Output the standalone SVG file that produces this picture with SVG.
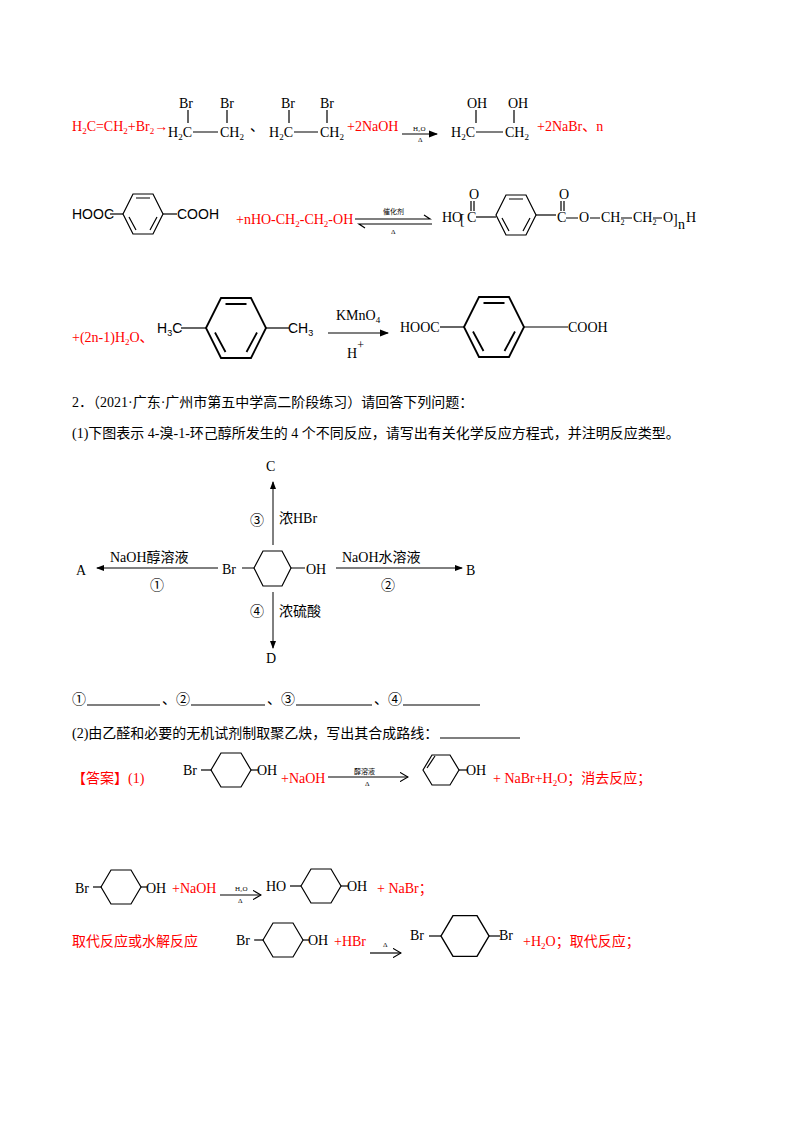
<svg xmlns="http://www.w3.org/2000/svg" width="800" height="1132" viewBox="0 0 800 1132">
<style>
text{font-family:"Liberation Serif","Noto Sans CJK SC",serif;font-size:14px;fill:#000}
.r{fill:#f00}
.s{font-size:7px}
.sb{font-family:"Liberation Sans",sans-serif}
.ln{stroke:#000;stroke-width:1.2;fill:none}
</style>
<defs>
<marker id="ah" markerWidth="8" markerHeight="6" refX="7" refY="3" orient="auto"><path d="M0,0L8,3L0,6z" fill="#000"/></marker>
<marker id="oa" markerWidth="8" markerHeight="8" refX="7" refY="4" orient="auto"><path d="M0,0L7,4L0,8" fill="none" stroke="#000"/></marker>
<g id="hex"><polygon points="-20,0 -10,-17 10,-17 20,0 10,17 -10,17" class="ln"/></g>
<g id="benz"><polygon points="-20,0 -10,-20 10,-20 20,0 10,20 -10,20" class="ln"/><path d="M-7,-16H7M14,3L7,16M-14,3L-7,16" class="ln"/></g>
</defs>
<rect width="800" height="1132" fill="#fff"/>

<!-- Row 1 -->
<g id="row1">
<text x="72" y="131" class="r">H<tspan font-size="9" dy="3">2</tspan><tspan dy="-3">C=CH</tspan><tspan font-size="9" dy="3">2</tspan><tspan dy="-3">+Br</tspan><tspan font-size="9" dy="3">2</tspan><tspan dy="-3">→</tspan></text>
<text x="168" y="137">H<tspan font-size="9" dy="3">2</tspan><tspan dy="-3">C</tspan></text>
<text x="220" y="137">CH<tspan font-size="9" dy="3">2</tspan></text>
<path d="M193,132H218M188,123V110M227,123V110" class="ln"/>
<text x="179" y="108">Br</text><text x="220" y="108">Br</text>
<text x="250" y="131">、</text>
<text x="269" y="137">H<tspan font-size="9" dy="3">2</tspan><tspan dy="-3">C</tspan></text>
<text x="320" y="137">CH<tspan font-size="9" dy="3">2</tspan></text>
<path d="M294,132H318M289,123V110M327,123V110" class="ln"/>
<text x="281" y="108">Br</text><text x="320" y="108">Br</text>
<text x="347" y="131" class="r">+2NaOH</text>
<path d="M402,134H437" class="ln" stroke-width="0.8" marker-end="url(#ah)"/>
<text x="413" y="131" class="s">H₂O</text><text x="418" y="142" class="s">Δ</text>
<text x="451" y="137">H<tspan font-size="9" dy="3">2</tspan><tspan dy="-3">C</tspan></text>
<text x="505" y="137">CH<tspan font-size="9" dy="3">2</tspan></text>
<path d="M476,132H503M476,123V110M514,123V110" class="ln"/>
<text x="467" y="108">OH</text><text x="508" y="108">OH</text>
<text x="537" y="131" class="r">+2NaBr、n</text>
</g>

<!-- Row 2 -->
<g id="row2">
<text x="72" y="219" class="sb" font-size="13">HOOC</text>
<path d="M110,214H123" class="ln"/>
<use href="#benz" x="143" y="214"/>
<path d="M163,214H177" class="ln"/>
<text x="177" y="219" class="sb" font-size="13">COOH</text>
<text x="236" y="224" class="r">+nHO-CH<tspan font-size="9" dy="3">2</tspan><tspan dy="-3">-CH</tspan><tspan font-size="9" dy="3">2</tspan><tspan dy="-3">-OH</tspan></text>
<path d="M355,219H430l-6,-4M432,224H359l6,4" class="ln" stroke-width="0.8"/>
<text x="383" y="214" class="s">催化剂</text><text x="391" y="234" class="s">Δ</text>
<text x="442" y="222" font-size="11">HO</text>
<text x="460" y="224" font-size="16">[</text>
<text x="467" y="222" font-size="12">C</text>
<path d="M471,211V201M474,211V201" class="ln" stroke-width="0.8"/><text x="469" y="199" font-size="10">O</text>
<path d="M476,217H496" class="ln"/>
<use href="#benz" x="516" y="215"/>
<path d="M536,215H556" class="ln"/>
<text x="557" y="222" font-size="12">C</text>
<path d="M561,211V201M564,211V201" class="ln" stroke-width="0.8"/><text x="559" y="199" font-size="10">O</text>
<path d="M566,218H578M590,218H600M621,218H632M653,218H662" class="ln" stroke-width="0.8"/>
<text x="579" y="222" font-size="12">O</text>
<text x="601" y="222" font-size="12">CH<tspan font-size="8" dy="3">2</tspan></text>
<text x="633" y="222" font-size="12">CH<tspan font-size="8" dy="3">2</tspan></text>
<text x="663" y="222" font-size="12">O</text>
<text x="673" y="224" font-size="16">]</text><text x="678" y="229" font-size="9">n</text>
<text x="686" y="222" font-size="12">H</text>
</g>

<!-- Row 3 -->
<g id="row3">
<text x="72" y="342" class="r">+(2n-1)H<tspan font-size="9" dy="3">2</tspan><tspan dy="-3">O、</tspan></text>
<text x="157" y="333" class="sb" font-size="13">H<tspan font-size="9" dy="3">3</tspan><tspan dy="-3">C</tspan></text>
<path d="M181,328H206" class="ln"/>
<use href="#benz" transform="translate(236,328) scale(1.5)"/>
<path d="M266,328H289" class="ln"/>
<text x="288" y="333" class="sb" font-size="13">CH<tspan font-size="9" dy="3">3</tspan></text>
<path d="M328,333H388" class="ln" stroke-width="1" marker-end="url(#ah)"/>
<text x="336" y="320">KMnO<tspan font-size="9" dy="3">4</tspan></text>
<text x="347" y="358" font-size="20">H<tspan font-size="12" dy="-9">+</tspan></text>
<text x="400" y="332">HOOC</text>
<path d="M440,327H464" class="ln"/>
<use href="#benz" transform="translate(494,327) scale(1.5)"/>
<path d="M524,327H568" class="ln"/>
<text x="568" y="332">COOH</text>
</g>

<text x="72" y="407">2．（2021·广东·广州市第五中学高二阶段练习）请回答下列问题：</text>
<text x="72" y="438">(1)下图表示 4-溴-1-环己醇所发生的 4 个不同反应，请写出有关化学反应方程式，并注明反应类型。</text>

<!-- Reaction diagram -->
<g id="center">
<polygon points="254,568 263,551 282,551 291,568 282,586 263,586" class="ln" stroke-width="1"/>
<path d="M242,568H254M291,568H305" class="ln" stroke-width="1"/>
<text x="222" y="574" font-size="16">Br</text>
<text x="306" y="574" font-size="16">OH</text>
</g>
<g id="A"><text x="76" y="575" font-size="16">A</text></g>
<g id="B"><text x="466" y="575" font-size="16">B</text></g>
<g id="C"><text x="266" y="471" font-size="16">C</text></g>
<g id="D"><text x="266" y="663" font-size="16">D</text></g>
<g id="connectors" stroke="#000" stroke-width="1">
<path d="M218,568H97" marker-end="url(#ah)"/>
<path d="M336,568H462" marker-end="url(#ah)"/>
<path d="M273,545V482" marker-end="url(#ah)"/>
<path d="M273,592V648" marker-end="url(#ah)"/>
</g>
<g id="labels">
<text x="110" y="562" font-size="16">NaOH醇溶液</text>
<text x="150" y="590" font-size="16">①</text>
<text x="342" y="562" font-size="16">NaOH水溶液</text>
<text x="381" y="590" font-size="16">②</text>
<text x="250" y="525" font-size="16">③</text>
<text x="279" y="523" font-size="16">浓HBr</text>
<text x="250" y="616" font-size="16">④</text>
<text x="279" y="616" font-size="16">浓硫酸</text>
</g>

<text x="72" y="704">①</text>
<text x="162" y="704">、②</text>
<text x="267" y="704">、③</text>
<text x="374" y="704">、④</text>
<path d="M87,705H160M191,705H265M296,705H372M403,705H480" class="ln" stroke-width="0.8"/>
<text x="72" y="738">(2)由乙醛和必要的无机试剂制取聚乙炔，写出其合成路线：</text><path d="M440,738H520" class="ln" stroke-width="0.8"/>

<!-- Answers -->
<g id="ans1">
<text x="72" y="783" class="r">【答案】(1)</text>
<text x="183" y="775" font-size="15">Br</text>
<path d="M201,770H212" class="ln"/>
<use href="#hex" x="231" y="770"/>
<path d="M251,770H258" class="ln"/>
<text x="257" y="775" font-size="15">OH</text>
<text x="281" y="783" class="r">+NaOH</text>
<path d="M328,777H408" class="ln" stroke-width="0.8" marker-end="url(#oa)"/>
<text x="354" y="774" class="s">醇溶液</text><text x="365" y="786" class="s">Δ</text>
<polygon points="423,770 432,755 450,755 459,770 450,785 432,785" class="ln"/>
<path d="M427,768L435,756" class="ln"/>
<path d="M459,770H467" class="ln"/>
<text x="466" y="775" font-size="15">OH</text>
<text x="493" y="783" class="r">+ NaBr+H<tspan font-size="9" dy="3">2</tspan><tspan dy="-3">O；消去反应；</tspan></text>
</g>

<g id="ans2">
<text x="75" y="893" font-size="15">Br</text>
<path d="M93,887H102" class="ln"/>
<use href="#hex" x="121" y="887"/>
<path d="M141,887H147" class="ln"/>
<text x="146" y="893" font-size="15">OH</text>
<text x="172" y="893" class="r">+NaOH</text>
<path d="M220,895H261" class="ln" stroke-width="0.8" marker-end="url(#oa)"/>
<text x="235" y="891" class="s">H₂O</text><text x="238" y="903" class="s">Δ</text>
<text x="266" y="891" font-size="16">HO</text>
<path d="M290,886H301" class="ln"/>
<use href="#hex" x="321" y="886"/>
<path d="M341,886H348" class="ln"/>
<text x="347" y="891" font-size="16">OH</text>
<text x="377" y="893" class="r">+ NaBr；</text>
</g>

<g id="ans3">
<text x="72" y="946" class="r">取代反应或水解反应</text>
<text x="236" y="945" font-size="15">Br</text>
<path d="M254,940H264" class="ln"/>
<use href="#hex" x="283" y="940"/>
<path d="M303,940H309" class="ln"/>
<text x="308" y="945" font-size="15">OH</text>
<text x="334" y="946" class="r">+HBr</text>
<path d="M370,953H401" class="ln" stroke-width="0.8" marker-end="url(#oa)"/>
<text x="383" y="947" class="s">Δ</text>
<text x="410" y="940" font-size="16">Br</text>
<path d="M429,936H441" class="ln"/>
<use href="#hex" transform="translate(465,936) scale(1.2)"/>
<path d="M489,936H500" class="ln"/>
<text x="499" y="940" font-size="16">Br</text>
<text x="523" y="946" class="r">+H<tspan font-size="9" dy="3">2</tspan><tspan dy="-3">O；取代反应；</tspan></text>
</g>
</svg>
